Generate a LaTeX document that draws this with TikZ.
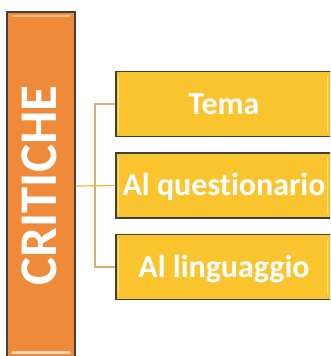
\documentclass[tikz,border=0pt]{standalone}
\usepackage{fontspec}
\setmainfont{Carlito}[Ligatures={NoCommon,NoContextual}]
\definecolor{rootfill}{HTML}{F08A3B}
\definecolor{leaffill}{HTML}{FAC42E}
\definecolor{boxline}{HTML}{404040}
\definecolor{linkcol}{HTML}{D6B06C}
\definecolor{linkmid}{HTML}{F4B82A}
\definecolor{leafglowcol}{HTML}{FDE27A}
\definecolor{rootglowcol}{HTML}{FCC08C}
\begin{document}
\begin{tikzpicture}[x=1pt,y=1pt,
  rootbox/.style={draw=boxline,line width=1.3pt,fill=rootfill,minimum width=68pt,minimum height=348pt,inner sep=0pt},
  rootlabel/.style={text=white,font=\bfseries\fontsize{53}{53}\selectfont,rotate=90,inner sep=0pt,text height=34pt,text depth=0pt},
  leafbox/.style={draw=boxline,line width=1.3pt,fill=leaffill,minimum width=216pt,minimum height=65pt,inner sep=0pt,font=\bfseries\fontsize{32}{32}\selectfont,text=white,text height=20.6pt,text depth=0pt},
  link/.style={draw=linkcol,line width=1.2pt},
  linkmain/.style={draw=linkmid,line width=1.2pt},
  leafglow/.style={draw=leafglowcol,line width=1.6pt,line cap=round},
  rootglow/.style={draw=rootglowcol,line width=2.5pt,line cap=round}
]
\useasboundingbox (0,0) rectangle (330,356);
\clip (0,0) rectangle (330,356);
\node[rootbox] (root) at (41,170) {};
\draw[rootglow] ([xshift=6pt,yshift=-4.5pt]root.north west) -- ([xshift=-6pt,yshift=-4.5pt]root.north east);
\draw[rootglow,draw=rootglowcol!60!white] ([xshift=6pt,yshift=8pt]root.south west) -- ([xshift=-6pt,yshift=8pt]root.south east);
\node[rootlabel] (rootname) at (39,170.5) {CRITICHE};
\node[leafbox] (leafa) at (224,252) {Tema};
\node[leafbox] (leafb) at (224,170.5) {Al questionario};
\node[leafbox] (leafc) at (224,89) {Al linguaggio};
\foreach \n in {leafa,leafb,leafc}{
  \draw[leafglow] ([xshift=3pt,yshift=-6pt]\n.north west) -- ([xshift=3pt,yshift=6pt]\n.south west);
  \draw[leafglow] ([xshift=-5pt,yshift=-6pt]\n.north east) -- ([xshift=-5pt,yshift=6pt]\n.south east);
}
\coordinate (junction) at (95,170);
\draw[link] (leafa.west) -- (junction |- leafa.west) -- (junction |- leafc.west) -- (leafc.west);
\draw[linkmain] (root.east) -- (leafb.west);
\end{tikzpicture}
\end{document}
